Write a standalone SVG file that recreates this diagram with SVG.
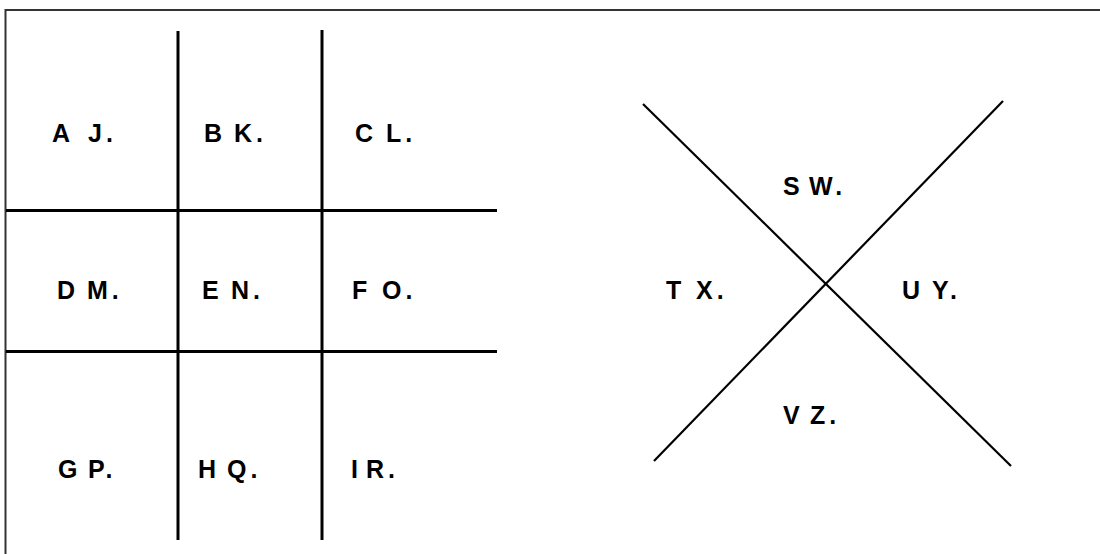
<svg xmlns="http://www.w3.org/2000/svg" width="1100" height="554" viewBox="0 0 1100 554">
<style>
.t{font-family:"Liberation Sans",Arial,sans-serif;font-weight:bold;font-size:25px;letter-spacing:4px;fill:#000}
.g{stroke:#000;stroke-width:3;fill:none}
.x{stroke:#000;stroke-width:2.2;fill:none}
</style>
<rect x="0" y="0" width="1100" height="554" fill="#fff"/>
<rect x="5.5" y="10" width="1110" height="600" fill="none" stroke="#333" stroke-width="2"/>
<g id="connectors">
<line class="g" x1="178" y1="31" x2="178" y2="540"/>
<line class="g" x1="322" y1="30" x2="322" y2="540"/>
<line class="g" x1="6" y1="210.5" x2="497" y2="210.5"/>
<line class="g" x1="6" y1="351.5" x2="497" y2="351.5" stroke-width="3.5"/>
<line class="x" x1="643" y1="104" x2="1011" y2="466"/>
<line class="x" x1="1003" y1="101" x2="654" y2="461"/>
</g>
<g id="n-aj"><text class="t" y="142"><tspan x="52">A</tspan><tspan x="88">J.</tspan></text></g>
<g id="n-bk"><text class="t" y="142"><tspan x="204">B</tspan><tspan x="234">K.</tspan></text></g>
<g id="n-cl"><text class="t" y="142"><tspan x="355">C</tspan><tspan x="386">L.</tspan></text></g>
<g id="n-dm"><text class="t" y="299"><tspan x="57">D</tspan><tspan x="87">M.</tspan></text></g>
<g id="n-en"><text class="t" y="299"><tspan x="202">E</tspan><tspan x="231">N.</tspan></text></g>
<g id="n-fo"><text class="t" y="299"><tspan x="352">F</tspan><tspan x="382">O.</tspan></text></g>
<g id="n-gp"><text class="t" y="478"><tspan x="58">G</tspan><tspan x="88">P.</tspan></text></g>
<g id="n-hq"><text class="t" y="478"><tspan x="198">H</tspan><tspan x="227">Q.</tspan></text></g>
<g id="n-ir"><text class="t" y="478"><tspan x="351">I</tspan><tspan x="366">R.</tspan></text></g>
<g id="n-sw"><text class="t" y="195"><tspan x="783">S</tspan><tspan x="809">W.</tspan></text></g>
<g id="n-tx"><text class="t" y="299"><tspan x="666">T</tspan><tspan x="696">X.</tspan></text></g>
<g id="n-uy"><text class="t" y="299"><tspan x="902">U</tspan><tspan x="932">Y.</tspan></text></g>
<g id="n-vz"><text class="t" y="424"><tspan x="783">V</tspan><tspan x="810">Z.</tspan></text></g>
</svg>
